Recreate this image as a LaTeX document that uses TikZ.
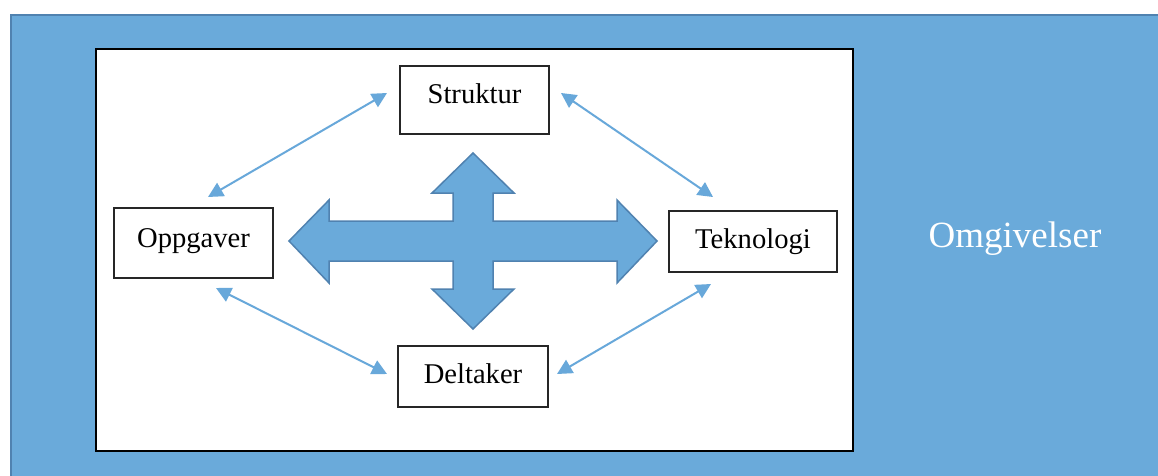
\documentclass[tikz,border=0pt]{standalone}
\usepackage{fontspec}
\setmainfont{Liberation Serif}
\usetikzlibrary{arrows.meta}
\definecolor{fillblue}{RGB}{106,170,218}
\definecolor{edgeblue}{RGB}{80,130,176}
\definecolor{lineblue}{RGB}{104,168,218}
\tikzset{
  box/.style={draw=black!85, line width=1.3pt, fill=white, inner sep=0pt, text height=20pt, font=\fontsize{28.6}{32}\selectfont},
  link/.style={draw=lineblue, line width=2pt, {Triangle[length=15pt,width=15pt]}-{Triangle[length=15pt,width=15pt]}},
}
\begin{document}
\begin{tikzpicture}[x=1pt,y=-1pt]
\useasboundingbox (0,0) rectangle (1158,476);
\fill[white] (0,0) rectangle (1158,476);
% environment
\begin{scope}
\clip (0,0) rectangle (1158,476);
\draw[fill=fillblue, draw=edgeblue, line width=2.5pt] (11,15) rectangle (1170,490);
\end{scope}
\node[text=white, anchor=base, inner sep=0pt, font=\fontsize{37}{40}\selectfont] (omg) at (1015,247) {Omgivelser};
% organisation frame
\draw[fill=white, draw=black, line width=1.8pt] (96,49) rectangle (853,451);
% boxes
\node[box, text depth=14pt, minimum width=149pt, minimum height=68pt] (s) at (474.5,100) {Struktur};
\node[box, text depth=12pt, minimum width=159pt, minimum height=70pt] (o) at (193.5,243) {Oppgaver};
\node[box, text depth=7pt, minimum width=168pt, minimum height=61pt] (t) at (753,241.5) {Teknologi};
\node[box, text depth=7pt, minimum width=150pt, minimum height=61pt] (d) at (473,376.5) {Deltaker};
% connector ends
\coordinate (so) at (387,93);
\coordinate (os) at (208,197);
\coordinate (st) at (561,93);
\coordinate (ts) at (713,197);
\coordinate (od) at (216,288);
\coordinate (do) at (387,374);
\coordinate (dt) at (557,374);
\coordinate (td) at (711,284);
\draw[link] (os) -- (so);
\draw[link] (st) -- (ts);
\draw[link] (od) -- (do);
\draw[link] (dt) -- (td);
% central cross arrow
\draw[fill=fillblue, draw=edgeblue, line width=1.5pt, line join=miter]
  (289,241) -- (329,200) -- (329,221) -- (453,221) -- (453,193) -- (432,193) -- (473,153)
  -- (514,193) -- (493,193) -- (493,221) -- (617,221) -- (617,200) -- (657,241)
  -- (617,283) -- (617,261) -- (493,261) -- (493,289) -- (514,289) -- (473,329)
  -- (432,289) -- (453,289) -- (453,261) -- (329,261) -- (329,283) -- cycle;
\end{tikzpicture}
\end{document}
